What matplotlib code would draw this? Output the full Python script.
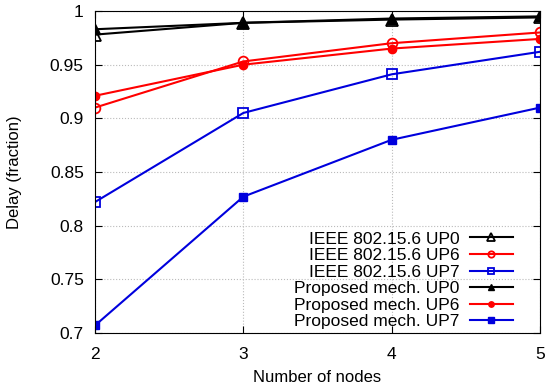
import matplotlib
matplotlib.use("Agg")
import matplotlib.pyplot as plt

plt.rcParams['font.family'] = ['Liberation Sans', 'DejaVu Sans']

nodes = [2, 3, 4, 5]

ieee_up0 = [0.978, 0.989, 0.992, 0.994]
ieee_up6 = [0.910, 0.953, 0.970, 0.980]
ieee_up7 = [0.822, 0.905, 0.941, 0.962]
prop_up0 = [0.983, 0.989, 0.993, 0.995]
prop_up6 = [0.921, 0.950, 0.965, 0.974]
prop_up7 = [0.707, 0.827, 0.880, 0.910]

fig = plt.figure(figsize=(5.5, 3.89), dpi=100)
ax = fig.add_axes([0.1727, 0.144, 0.8091, 0.8277])

ax.plot(nodes, ieee_up0, color='black', lw=1.5, marker='^', ms=8, mfc='none', mew=1.3, label='IEEE 802.15.6 UP0')
ax.plot(nodes, ieee_up6, color='red', lw=1.5, marker='o', ms=7, mfc='none', mew=1.3, label='IEEE 802.15.6 UP6')
ax.plot(nodes, ieee_up7, color='#0000dd', lw=1.5, marker='s', ms=7, mfc='none', mew=1.3, label='IEEE 802.15.6 UP7')
ax.plot(nodes, prop_up0, color='black', lw=1.5, marker='^', ms=7, label='Proposed mech. UP0')
ax.plot(nodes, prop_up6, color='red', lw=1.5, marker='o', ms=6, label='Proposed mech. UP6')
ax.plot(nodes, prop_up7, color='#0000dd', lw=1.5, marker='s', ms=6, label='Proposed mech. UP7')

ax.set_xlim(2, 5)
ax.set_ylim(0.7, 1.0)
ax.set_xticks([2, 3, 4, 5])
ax.set_yticks([0.7, 0.75, 0.8, 0.85, 0.9, 0.95, 1.0])
ax.set_yticklabels(['0.7', '0.75', '0.8', '0.85', '0.9', '0.95', '1'])
ax.grid(True, color='#bbbbbb', linestyle=':', linewidth=0.8)
ax.tick_params(direction='in', top=True, right=True, labelsize=12.5, length=5)
ax.tick_params(axis='x', pad=10)
ax.tick_params(axis='y', pad=8)
ax.set_xlabel('Number of nodes', fontsize=12, labelpad=6)
ax.set_ylabel('Delay (fraction)', fontsize=12, labelpad=20)

ax.legend(loc='lower right', bbox_to_anchor=(0.955, -0.01), frameon=False,
          markerfirst=False, numpoints=1, markerscale=0.65,
          fontsize=12.5, handlelength=2.5, handletextpad=0.6,
          labelspacing=0.08, borderaxespad=0.0)

fig.savefig('out.png', dpi=100)
